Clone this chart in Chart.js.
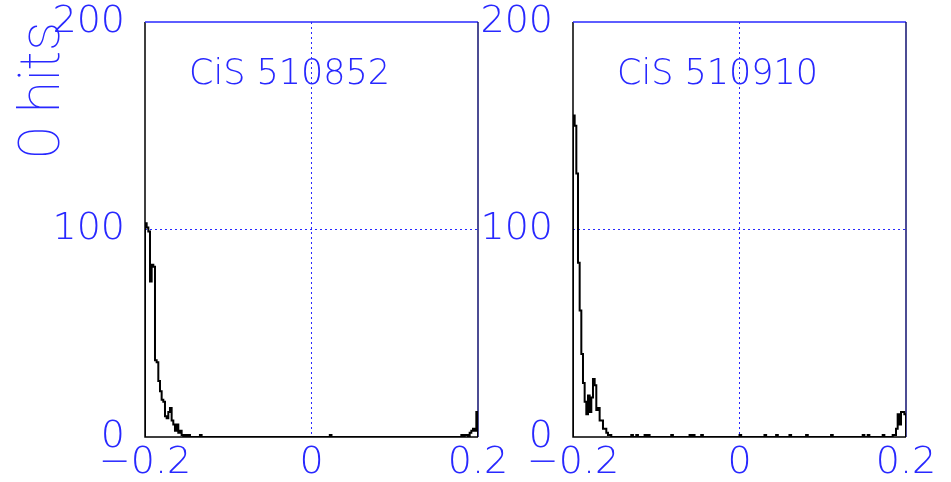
<!DOCTYPE html>
<html>
<head>
<meta charset="utf-8">
<script src="https://cdn.jsdelivr.net/npm/chart.js@4.4.0/dist/chart.umd.min.js"></script>
<style>
  html, body { margin: 0; padding: 0; background: #fff; }
  #wrap { position: relative; width: 951px; height: 482px; }
  canvas { position: absolute; left: 0; top: 0; }
</style>
</head>
<body>
<div id="wrap">
  <canvas id="left" width="951" height="482"></canvas>
  <canvas id="right" width="951" height="482"></canvas>
</div>
<script>
// histogram binning: 200 bins from -0.2 to 0.2
var xMin = -0.2, xMax = 0.2, binWidth = 0.002;
var xTicks = [-0.2, 0, 0.2];
var xTickLabels = ['\u22120.2', '0', '0.2'];
var yTicks = [0, 100, 200];
var yTickLabels = ['0', '100', '200'];
var yTitle = '0 hits';
var panelLabels = ['CiS 510852', 'CiS 510910'];

var hits510852 = [
  103,101, 99, 75, 83, 82, 37, 36, 27, 22, 18, 17, 10,  9, 12, 14,  8,  6,  3,  6,
    2,  3,  1,  0,  1,  0,  1,  0,  0,  0,  0,  0,  0,  1,  0,  0,  0,  0,  0,  0,
    0,  0,  0,  0,  0,  0,  0,  0,  0,  0,  0,  0,  0,  0,  0,  0,  0,  0,  0,  0,
    0,  0,  0,  0,  0,  0,  0,  0,  0,  0,  0,  0,  0,  0,  0,  0,  0,  0,  0,  0,
    0,  0,  0,  0,  0,  0,  0,  0,  0,  0,  0,  0,  0,  0,  0,  0,  0,  0,  0,  0,
    0,  0,  0,  0,  0,  0,  0,  0,  0,  0,  0,  1,  0,  0,  0,  0,  0,  0,  0,  0,
    0,  0,  0,  0,  0,  0,  0,  0,  0,  0,  0,  0,  0,  0,  0,  0,  0,  0,  0,  0,
    0,  0,  0,  0,  0,  0,  0,  0,  0,  0,  0,  0,  0,  0,  0,  0,  0,  0,  0,  0,
    0,  0,  0,  0,  0,  0,  0,  0,  0,  0,  0,  0,  0,  0,  0,  0,  0,  0,  0,  0,
    0,  0,  0,  0,  0,  0,  0,  0,  0,  0,  1,  0,  1,  1,  0,  2,  3,  4,  3, 12
];

var hits510910 = [
  155,150,127, 84, 61, 40, 26, 17, 11, 20, 12, 19, 28, 25, 13, 14,  8,  8,  4,  4,
    2,  1,  1,  0,  0,  0,  0,  0,  0,  0,  0,  0,  0,  0,  0,  1,  0,  0,  1,  0,
    0,  0,  0,  1,  0,  1,  0,  0,  0,  0,  0,  0,  0,  0,  0,  0,  0,  0,  0,  1,
    0,  0,  0,  0,  0,  0,  0,  0,  0,  0,  1,  0,  1,  0,  0,  0,  0,  1,  0,  0,
    0,  0,  0,  0,  0,  0,  0,  0,  0,  0,  0,  0,  0,  0,  0,  0,  0,  0,  0,  0,
    1,  0,  0,  0,  0,  0,  0,  0,  0,  0,  0,  0,  0,  0,  0,  1,  0,  0,  0,  0,
    0,  0,  1,  0,  0,  0,  0,  0,  0,  0,  1,  0,  0,  0,  0,  0,  0,  0,  0,  0,
    1,  0,  0,  0,  0,  0,  0,  0,  0,  0,  0,  0,  0,  0,  0,  1,  0,  0,  0,  0,
    0,  0,  0,  0,  0,  0,  0,  0,  0,  0,  0,  0,  0,  0,  1,  0,  0,  1,  0,  0,
    0,  0,  0,  0,  0,  0,  1,  0,  0,  0,  0,  0,  1,  1,  4, 11,  6, 12, 12, 11
];

var blue = 'rgb(40,40,255)';
var textFont = 'DejaVu Sans';

// step outline points: left edge of every bin, closed down to zero at both ends
function stepPoints(values) {
  var pts = [{ x: xMin, y: 0 }];
  for (var i = 0; i < values.length; i++) {
    pts.push({ x: xMin + i * binWidth, y: values[i] });
  }
  pts.push({ x: xMax, y: values[values.length - 1] });
  pts.push({ x: xMax, y: 0 });
  return pts;
}

var framePlugin = {
  id: 'frame',
  beforeDatasetsDraw: function (chart) {
    var a = chart.chartArea, c = chart.ctx;
    c.save();
    c.lineWidth = 1.5;
    c.strokeStyle = '#000';
    c.beginPath();
    c.moveTo(a.left, a.top); c.lineTo(a.left, a.bottom); c.lineTo(a.right, a.bottom);
    c.stroke();
    c.strokeStyle = blue;
    c.beginPath();
    c.moveTo(a.left, a.top); c.lineTo(a.right, a.top);
    c.stroke();
    c.strokeStyle = '#101070';
    c.beginPath();
    c.moveTo(a.right, a.top); c.lineTo(a.right, a.bottom);
    c.stroke();
    c.restore();
  },
  afterDraw: function (chart) {
    var a = chart.chartArea, c = chart.ctx;
    c.save();
    c.font = '200 35px "' + textFont + '"';
    c.fillStyle = blue;
    c.textAlign = 'left';
    c.textBaseline = 'middle';
    c.fillText(chart.options.plugins.frame.label, a.left + 44, a.top + 53);
    c.restore();
  }
};

function makePanel(id, values, label, padLeft, padRight, showTitle) {
  return new Chart(document.getElementById(id), {
    type: 'line',
    data: {
      datasets: [{
        data: stepPoints(values),
        stepped: 'before',
        borderColor: '#000',
        borderWidth: 2,
        pointRadius: 0,
        fill: false
      }]
    },
    options: {
      responsive: false,
      animation: false,
      layout: { padding: { left: padLeft, right: padRight, top: 22, bottom: 0 } },
      plugins: {
        legend: { display: false },
        tooltip: { enabled: false },
        frame: { label: label }
      },
      scales: {
        x: {
          type: 'linear',
          min: xMin, max: xMax,
          afterBuildTicks: function (s) { s.ticks = xTicks.map(function (v) { return { value: v }; }); },
          afterFit: function (s) { s.height = 45; s.paddingLeft = 0; s.paddingRight = 0; },
          grid: {
            drawTicks: false,
            lineWidth: 1,
            color: function (ctx) { return ctx.tick && ctx.tick.value === 0 ? blue : 'rgba(0,0,0,0)'; }
          },
          border: { display: false, dash: [2, 3] },
          ticks: {
            maxRotation: 0,
            autoSkip: false,
            padding: 3,
            color: blue,
            font: { family: textFont, size: 38, weight: '200' },
            callback: function (v, i) { return xTickLabels[i]; }
          }
        },
        y: {
          min: 0, max: 200,
          afterBuildTicks: function (s) { s.ticks = yTicks.map(function (v) { return { value: v }; }); },
          afterFit: function (s) { s.width = 145; s.paddingTop = 0; s.paddingBottom = 0; },
          grid: {
            drawTicks: false,
            lineWidth: 1,
            color: function (ctx) { return ctx.tick && ctx.tick.value === 100 ? blue : 'rgba(0,0,0,0)'; }
          },
          border: { display: false, dash: [2, 3] },
          ticks: {
            padding: 20,
            color: blue,
            font: { family: textFont, size: 38, weight: '200' },
            callback: function (v, i) { return yTickLabels[i]; }
          },
          title: {
            display: showTitle,
            text: yTitle,
            align: 'end',
            color: blue,
            padding: { top: 10, bottom: 0 },
            font: { family: 'Roboto', size: 58, weight: '100' }
          }
        }
      }
    },
    plugins: [framePlugin]
  });
}

makePanel('left', hits510852, panelLabels[0], 0, 951 - 478, true);
makePanel('right', hits510910, panelLabels[1], 573 - 145, 951 - 906, false);
</script>
</body>
</html>
